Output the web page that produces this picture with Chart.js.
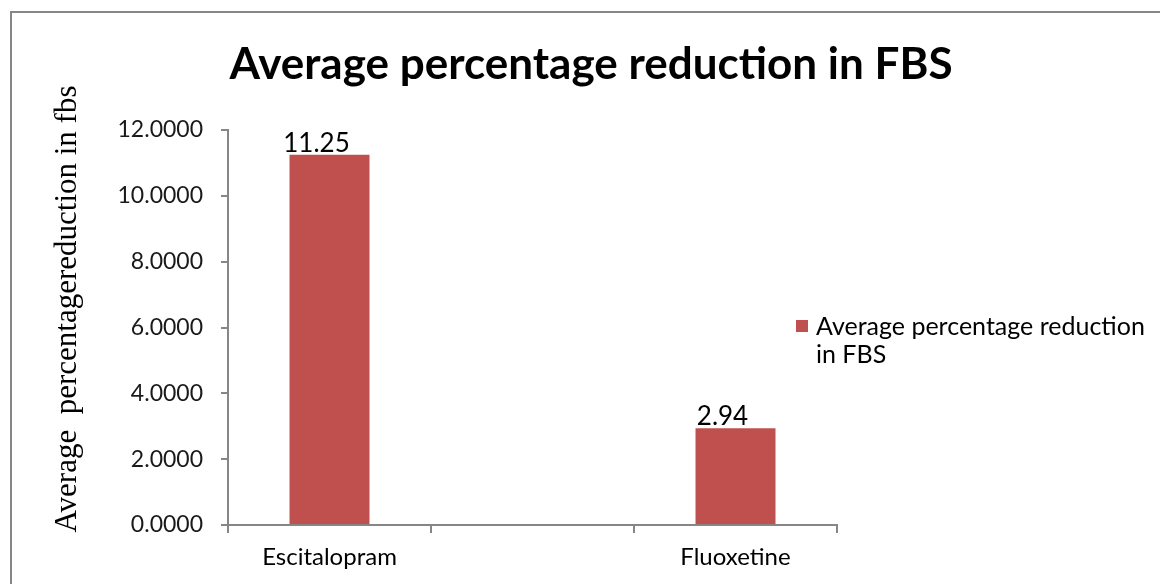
<!DOCTYPE html>
<html>
<head>
<meta charset="utf-8">
<title>Average percentage reduction in FBS</title>
<script src="https://cdn.jsdelivr.net/npm/chart.js@4.4.1/dist/chart.umd.min.js"></script>
<style>
  html, body { margin: 0; padding: 0; background: #ffffff; }
  #wrap { position: relative; width: 1160px; height: 584px; }
</style>
</head>
<body>
<div id="wrap"><canvas id="chart" width="1160" height="584"></canvas></div>
<script>
// Drug groups; the blank middle slot keeps the two bars apart on the axis
const categories = ['Escitalopram', '', 'Fluoxetine'];
const reductionValues = [11.25, null, 2.94];
const seriesLabel = 'Average percentage reduction in FBS';
const chartTitle = 'Average percentage reduction in FBS';
const yAxisTitle = 'Average  percentagereduction in fbs';
const yTicks = [0, 2, 4, 6, 8, 10, 12];

const AXIS_GREY = '#868686';
const BAR_RED = '#C0504D';
const SANS = 'Lato, "Open Sans", sans-serif';

// Outer frame of the chart
const framePlugin = {
  id: 'frame',
  beforeDraw(chart) {
    const ctx = chart.ctx;
    ctx.save();
    ctx.fillStyle = '#ffffff';
    ctx.fillRect(0, 0, chart.width, chart.height);
    ctx.strokeStyle = AXIS_GREY;
    ctx.lineWidth = 2;
    ctx.strokeRect(11, 12, chart.width + 20, chart.height + 20);
    ctx.restore();
  }
};

// Chart heading, centred over the whole frame
const headingPlugin = {
  id: 'heading',
  afterDraw(chart) {
    const ctx = chart.ctx;
    ctx.save();
    ctx.font = 'bold 44px ' + SANS;
    ctx.fillStyle = '#000000';
    ctx.textAlign = 'center';
    ctx.textBaseline = 'alphabetic';
    ctx.fillText(chartTitle, 591, 79);
    ctx.restore();
  }
};

// Rotated serif axis title
const yTitlePlugin = {
  id: 'yTitle',
  afterDraw(chart) {
    const ctx = chart.ctx;
    ctx.save();
    ctx.translate(68, 309);
    ctx.rotate(-Math.PI / 2);
    ctx.font = '31px "Liberation Serif", "Times New Roman", serif';
    ctx.fillStyle = '#000000';
    ctx.textAlign = 'center';
    ctx.textBaseline = 'middle';
    ctx.fillText(yAxisTitle, 0, 0);
    ctx.restore();
  }
};

// Value labels above each bar
const valueLabelPlugin = {
  id: 'valueLabels',
  afterDatasetsDraw(chart) {
    const ctx = chart.ctx;
    const ds = chart.data.datasets[0];
    const meta = chart.getDatasetMeta(0);
    ctx.save();
    ctx.font = '26px ' + SANS;
    ctx.fillStyle = '#000000';
    ctx.textAlign = 'center';
    ctx.textBaseline = 'alphabetic';
    meta.data.forEach((bar, i) => {
      const v = ds.data[i];
      if (v === null || v === undefined) return;
      ctx.fillText(v.toFixed(2), bar.x - 13, bar.y - 3);
    });
    ctx.restore();
  }
};

// Legend on the right with wrapped text
const sideLegendPlugin = {
  id: 'sideLegend',
  afterDraw(chart) {
    const ctx = chart.ctx;
    const ds = chart.data.datasets[0];
    ctx.save();
    ctx.fillStyle = ds.backgroundColor;
    ctx.fillRect(796, 320, 12, 12);
    ctx.font = '25px ' + SANS;
    ctx.fillStyle = '#000000';
    ctx.textAlign = 'left';
    ctx.textBaseline = 'alphabetic';
    const words = ds.label.split(' ');
    const lines = [words.slice(0, 3).join(' '), words.slice(3).join(' ')];
    lines.forEach((line, i) => ctx.fillText(line, 816, 335 + i * 28));
    ctx.restore();
  }
};

new Chart(document.getElementById('chart'), {
  type: 'bar',
  data: {
    labels: categories,
    datasets: [{
      label: seriesLabel,
      data: reductionValues,
      backgroundColor: BAR_RED,
      borderWidth: 0,
      categoryPercentage: 1.0,
      barPercentage: 0.394
    }]
  },
  options: {
    responsive: false,
    animation: false,
    layout: { padding: { left: 0, right: 323, top: 130, bottom: 0 } },
    plugins: {
      legend: { display: false },
      tooltip: { enabled: false },
      title: { display: false }
    },
    scales: {
      x: {
        offset: true,
        grid: {
          display: true,
          offset: true,
          drawOnChartArea: false,
          drawTicks: true,
          tickLength: 8,
          color: AXIS_GREY,
          lineWidth: 2
        },
        border: { display: true, color: AXIS_GREY, width: 2 },
        ticks: {
          color: '#000000',
          font: { family: SANS, size: 24 },
          padding: 10,
          maxRotation: 0
        },
        afterFit(scale) { scale.height = 59; }
      },
      y: {
        min: 0,
        max: 12,
        afterBuildTicks(scale) { scale.ticks = yTicks.map(v => ({ value: v })); },
        grid: {
          display: true,
          drawOnChartArea: false,
          drawTicks: true,
          tickLength: 7,
          color: AXIS_GREY,
          lineWidth: 2
        },
        border: { display: true, color: AXIS_GREY, width: 2 },
        ticks: {
          color: '#1a1a1a',
          font: { family: SANS, size: 23 },
          padding: 18,
          callback: v => Number(v).toFixed(4)
        },
        afterFit(scale) { scale.width = 228; }
      }
    }
  },
  plugins: [framePlugin, headingPlugin, yTitlePlugin, valueLabelPlugin, sideLegendPlugin]
});
</script>
</body>
</html>
